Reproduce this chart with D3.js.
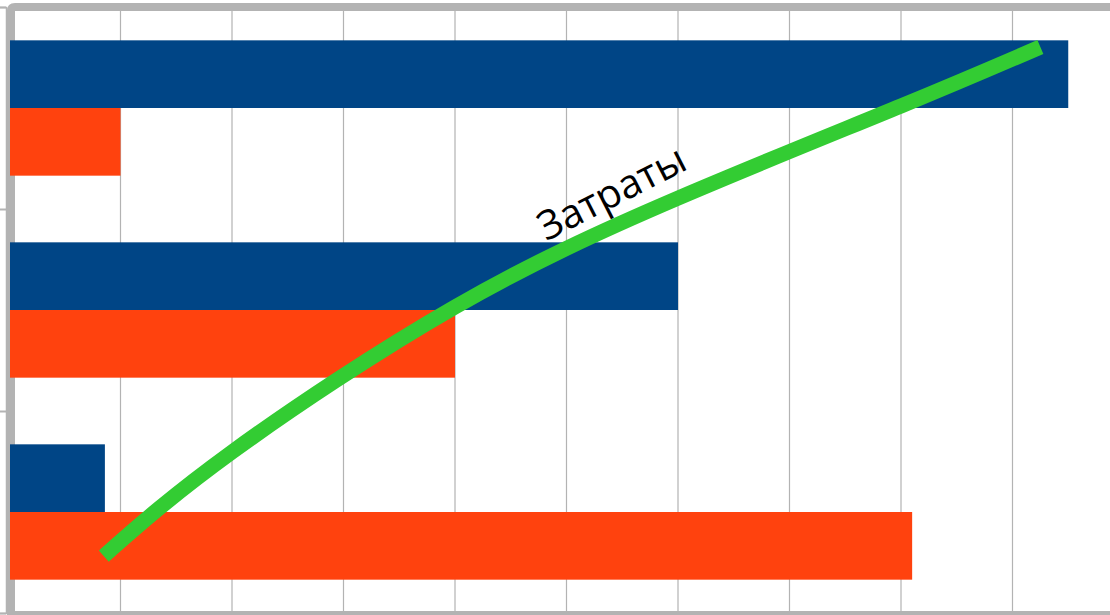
<!DOCTYPE html>
<html lang="ru">
<head>
  <meta charset="UTF-8">
  <title>Затраты</title>
  <script src="https://d3js.org/d3.v7.min.js"></script>
  <style>
    html, body { margin: 0; padding: 0; background: #fff; }
    svg { display: block; font-family: "Open Sans", "Noto Sans", sans-serif; }
  </style>
</head>
<body>
  <svg width="1110" height="615"></svg>
  <script>
    // Данные
    const categories = ["Категория 1", "Категория 2", "Категория 3"];
    const seriesNames = ["Ряд 1", "Ряд 2"];
    const series1 = [9.5, 6.0, 0.86];
    const series2 = [1.0, 4.0, 8.1];
    const gridTicks = [1, 2, 3, 4, 5, 6, 7, 8, 9, 10];

    // Линия "Затраты": x по оси значений, y по оси категорий (0..3 снизу вверх)
    const costLabel = "Затраты";
    const costX = [0.85, 2.0, 4.0, 6.0, 8.0, 9.25];
    const costY = [0.282, 0.797, 1.515, 2.054, 2.51, 2.802];

    const svg = d3.select("svg");

    const x = d3.scaleLinear().domain([0, 10]).range([9, 1124]);
    const yCat = d3.scaleBand()
                   .domain(categories)
                   .range([7, 613])
                   .paddingInner(0.33)
                   .paddingOuter(0.165);
    const ySub = d3.scaleBand()
                   .domain(seriesNames)
                   .range([0, yCat.bandwidth()]);
    const yLine = d3.scaleLinear().domain([0, 3]).range([613, 7]);

    const colors = d3.scaleOrdinal()
                     .domain(seriesNames)
                     .range(["#004586", "#ff420e"]);

    // Сетка
    svg.append("g")
       .selectAll("line")
       .data(gridTicks)
       .join("line")
       .attr("x1", d => x(d))
       .attr("x2", d => x(d))
       .attr("y1", 7)
       .attr("y2", 613)
       .attr("stroke", "#b3b3b3")
       .attr("stroke-width", 1.2);

    // Ось категорий
    const catAxis = svg.append("g")
       .attr("transform", "translate(6,0)")
       .call(d3.axisLeft(yLine).tickValues([0, 1, 2, 3]).tickSize(7).tickFormat(""));
    catAxis.selectAll("line").attr("stroke", "#b3b3b3").attr("stroke-width", 2);
    catAxis.select(".domain").attr("stroke", "#b3b3b3").attr("stroke-width", 1.5);

    // Рамка области построения
    svg.append("path")
       .attr("d", "M11,620 L11,11 Q11,7 15,7 L1130,7 M11,615 L1130,615")
       .attr("fill", "none")
       .attr("stroke", "#b3b3b3")
       .attr("stroke-width", 8);

    // Столбцы
    const rows = categories.map((c, i) => ({ cat: c, values: [
      { name: seriesNames[0], value: series1[i] },
      { name: seriesNames[1], value: series2[i] }
    ]}));

    svg.append("g")
       .selectAll("g")
       .data(rows)
       .join("g")
       .attr("transform", d => `translate(0,${yCat(d.cat)})`)
       .selectAll("rect")
       .data(d => d.values)
       .join("rect")
       .attr("x", x(0) + 1)
       .attr("y", d => ySub(d.name))
       .attr("width", d => x(d.value) - x(0) - 1)
       .attr("height", ySub.bandwidth())
       .attr("fill", d => colors(d.name));

    // Линия затрат
    const costPts = costX.map((v, i) => [x(v), yLine(costY[i])]);
    svg.append("path")
       .datum(costPts)
       .attr("d", d3.line().curve(d3.curveNatural))
       .attr("fill", "none")
       .attr("stroke", "#33cc33")
       .attr("stroke-width", 15)
       .attr("stroke-linecap", "butt");

    svg.append("text")
       .attr("transform", `translate(${x(5.46)},${yLine(2.02)}) rotate(-27)`)
       .attr("text-anchor", "middle")
       .attr("font-size", 40)
       .attr("fill", "#000")
       .text(costLabel);
  </script>
</body>
</html>
